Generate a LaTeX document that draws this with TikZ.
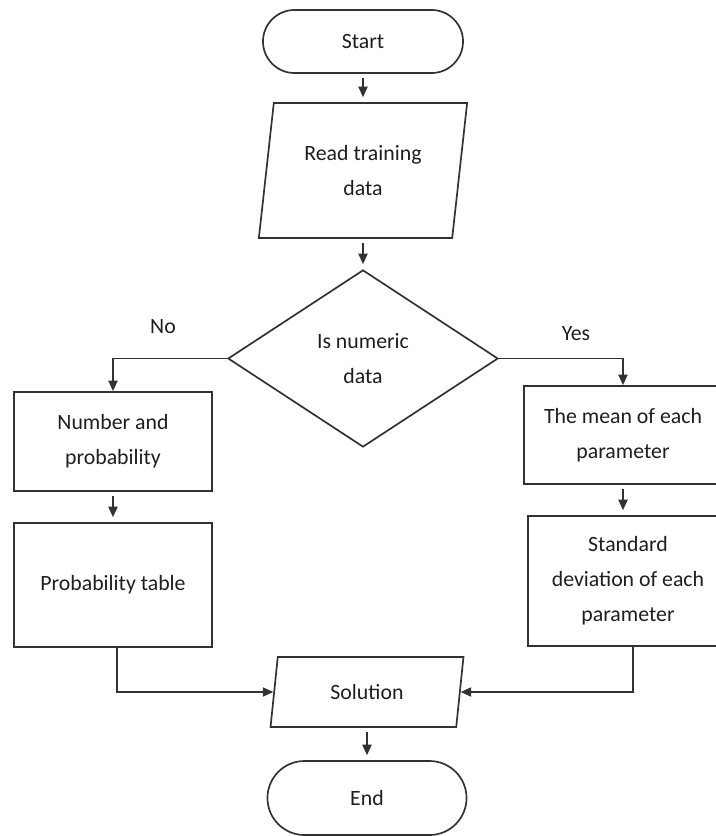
\documentclass[tikz,border=0pt]{standalone}
\usepackage{fontspec}
\setmainfont{Carlito}
\usepackage{tikz}
\usetikzlibrary{arrows.meta,calc,positioning,shapes.geometric,shapes.misc}
\definecolor{flowline}{RGB}{50,50,50}
\definecolor{flowtext}{RGB}{30,30,30}

\begin{document}
\begin{tikzpicture}[x=0.025cm, y=-0.025cm,
  every node/.style={font=\fontsize{15.5}{25}\selectfont, text=flowtext, align=center, inner sep=0pt},
  term/.style={draw=flowline, line width=1.2pt, rounded rectangle},
  io/.style={draw=flowline, line width=1.2pt, trapezium, trapezium left angle=79,
    trapezium right angle=101, trapezium stretches=true},
  decide/.style={draw=flowline, line width=1.2pt, diamond},
  proc/.style={draw=flowline, line width=1.2pt, rectangle},
  link/.style={draw=flowline, line width=1.2pt, -{Triangle[length=7.5pt,width=6.5pt]}},
  shortlink/.style={link, shorten <=3pt, shorten >=3.5pt}]
\pgfmathsetmacro{\midx}{363}
\pgfmathsetmacro{\lowx}{367}
\pgfmathsetmacro{\leftx}{113}

\useasboundingbox (0,0) rectangle (716,836);
\clip (0,0) rectangle (716,836);

\node[term, minimum width=5cm, minimum height=1.575cm] (start) at (\midx,41.5) {Start};
\node[io, minimum width=5.25cm, minimum height=3.375cm] (read) at (\midx,170.5) {Read training\\data};
\node[decide, minimum width=6.75cm, minimum height=4.425cm] (numeric) at (\midx,358.5) {Is numeric\\data};
\node (no) at (163,327) {No};
\node (yes) at (576,334) {Yes};

%two branches
\node[proc, minimum width=4.95cm, minimum height=2.475cm] (nprob) at (\leftx,441.5) {Number and\\probability};
\node[proc, minimum width=4.95cm, minimum height=3.1cm] (ptable) at (\leftx,585) {Probability table};
\node[proc, minimum width=4.95cm, minimum height=2.45cm] (mean) at (623,435) {The mean of each\\parameter};
\node[proc, minimum width=5cm, minimum height=3.25cm] (stdev) at (628,581) {Standard\\deviation of each\\parameter};

\node[io, minimum width=4.825cm, minimum height=1.75cm] (solution) at (\lowx,692) {Solution};
\node[term, minimum width=4.975cm, minimum height=1.85cm] (finish) at (\lowx,798) {End};

\draw[shortlink] (start) -- (read);
\draw[shortlink] (read) -- (numeric);
\draw[link] (numeric.west) -| (nprob.north);
\draw[link] (numeric.east) -| (mean.north);
\draw[shortlink] (nprob) -- (ptable);
\draw[shortlink] (mean.south) -- (mean.south |- stdev.north);
\draw[link] ([xshift=0.1cm]ptable.south) |- (solution.west);
\draw[link] ([xshift=0.125cm]stdev.south) |- (solution.east);
\draw[shortlink] (solution) -- (finish);
\end{tikzpicture}
\end{document}
